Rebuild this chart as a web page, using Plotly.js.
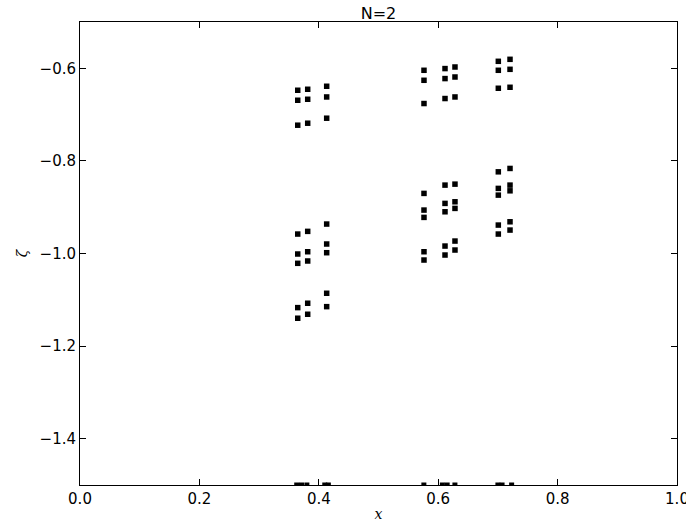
<!DOCTYPE html>
<html><head><meta charset="utf-8">
<script src="https://cdn.plot.ly/plotly-3.0.1.min.js"></script>
<style>html,body{margin:0;padding:0;background:#fff}</style>
</head><body>
<div id="chart" style="width:686px;height:525px"></div>
<script>
// block positions (data units)
const blockX = [
  0.3647,0.3647,0.3647, 0.3814,0.3814,0.3814, 0.4132,0.4132,0.4132,
  0.3647,0.3647,0.3647, 0.3814,0.3814,0.3814, 0.4132,0.4132,0.4132,
  0.3647,0.3647, 0.3814,0.3814, 0.4132,0.4132,
  0.5762,0.5762,0.5762, 0.6114,0.6114,0.6114, 0.6281,0.6281,0.6281,
  0.5762,0.5762,0.5762, 0.6114,0.6114,0.6114, 0.6281,0.6281,0.6281,
  0.5762,0.5762, 0.6114,0.6114, 0.6281,0.6281,
  0.7007,0.7007,0.7007, 0.7203,0.7203,0.7203,
  0.7007,0.7007,0.7007, 0.7203,0.7203,0.7203,
  0.7007,0.7007, 0.7203,0.7203
];
const blockY = [
  -0.6474,-0.6690,-0.7229, -0.6453,-0.6669,-0.7186, -0.6388,-0.6619,-0.7078,
  -0.9580,-1.0011,-1.0212, -0.9522,-0.9962,-1.0162, -0.9364,-0.9795,-0.9983,
  -1.1169,-1.1398, -1.1074,-1.1312, -1.0859,-1.1148,
  -0.6043,-0.6259,-0.6761, -0.6006,-0.6222,-0.6653, -0.5972,-0.6188,-0.6619,
  -0.8702,-0.9062,-0.9220, -0.8523,-0.8918,-0.9099, -0.8502,-0.8883,-0.9026,
  -0.9962,-1.0141, -0.9839,-1.0033, -0.9731,-0.9925,
  -0.5849,-0.6043,-0.6431, -0.5806,-0.6022,-0.6410,
  -0.8236,-0.8594,-0.8739, -0.8163,-0.8523,-0.8646,
  -0.9386,-0.9580, -0.9315,-0.9494
];
// points sitting on the lower edge of the axes
const edgeX = [0.363,0.371,0.380,0.410,0.416,0.576,0.607,0.615,0.628,0.700,0.707,0.723];
const edgeY = [-1.5,-1.5,-1.5,-1.5,-1.5,-1.5,-1.5,-1.5,-1.5,-1.5,-1.5,-1.5];

const title = "N=2";
const xTicks = [0.0,0.2,0.4,0.6,0.8,1.0];
const yTicks = [-1.4,-1.2,-1.0,-0.8,-0.6];

const traces = [
  {x: blockX, y: blockY, type:"scatter", mode:"markers",
   marker:{symbol:"square", size:5.5, color:"#000", line:{width:0}}, cliponaxis:true, hoverinfo:"none"},
  {x: edgeX, y: edgeY, type:"scatter", mode:"markers",
   marker:{symbol:"square", size:5, color:"#000", line:{width:0}}, cliponaxis:true, hoverinfo:"none"}
];

const axisCommon = {
  showgrid:false, zeroline:false, showline:true, linecolor:"#000", linewidth:1,
  mirror:"ticks", ticks:"inside", ticklen:6, tickwidth:1, tickcolor:"#000",
  ticklabeloverflow:"allow",
  tickfont:{family:"DejaVu Sans", size:15, color:"#000"}, tickformat:".1f"
};

const layout = {
  width:686, height:525,
  margin:{l:80, r:9, t:22, b:39.5, pad:0},
  paper_bgcolor:"#fff", plot_bgcolor:"#fff",
  showlegend:false,
  title:{text:title, x:0.5517, xanchor:"center", yref:"paper", y:1, yanchor:"bottom",
         pad:{b:3}, font:{family:"DejaVu Sans", size:16, color:"#000"}},
  xaxis:Object.assign({}, axisCommon, {range:[0,1], tickvals:xTicks,
         title:{text:"<i>x</i>", font:{family:"DejaVu Serif", size:14, color:"#000"}, standoff:2}}),
  yaxis:Object.assign({}, axisCommon, {range:[-1.5,-0.5], tickvals:yTicks,
         title:{text:"<i>ζ</i>", font:{family:"DejaVu Serif", size:14, color:"#000"}, standoff:8}})
};

Plotly.newPlot("chart", traces, layout, {staticPlot:true, displayModeBar:false});
</script>
</body></html>
